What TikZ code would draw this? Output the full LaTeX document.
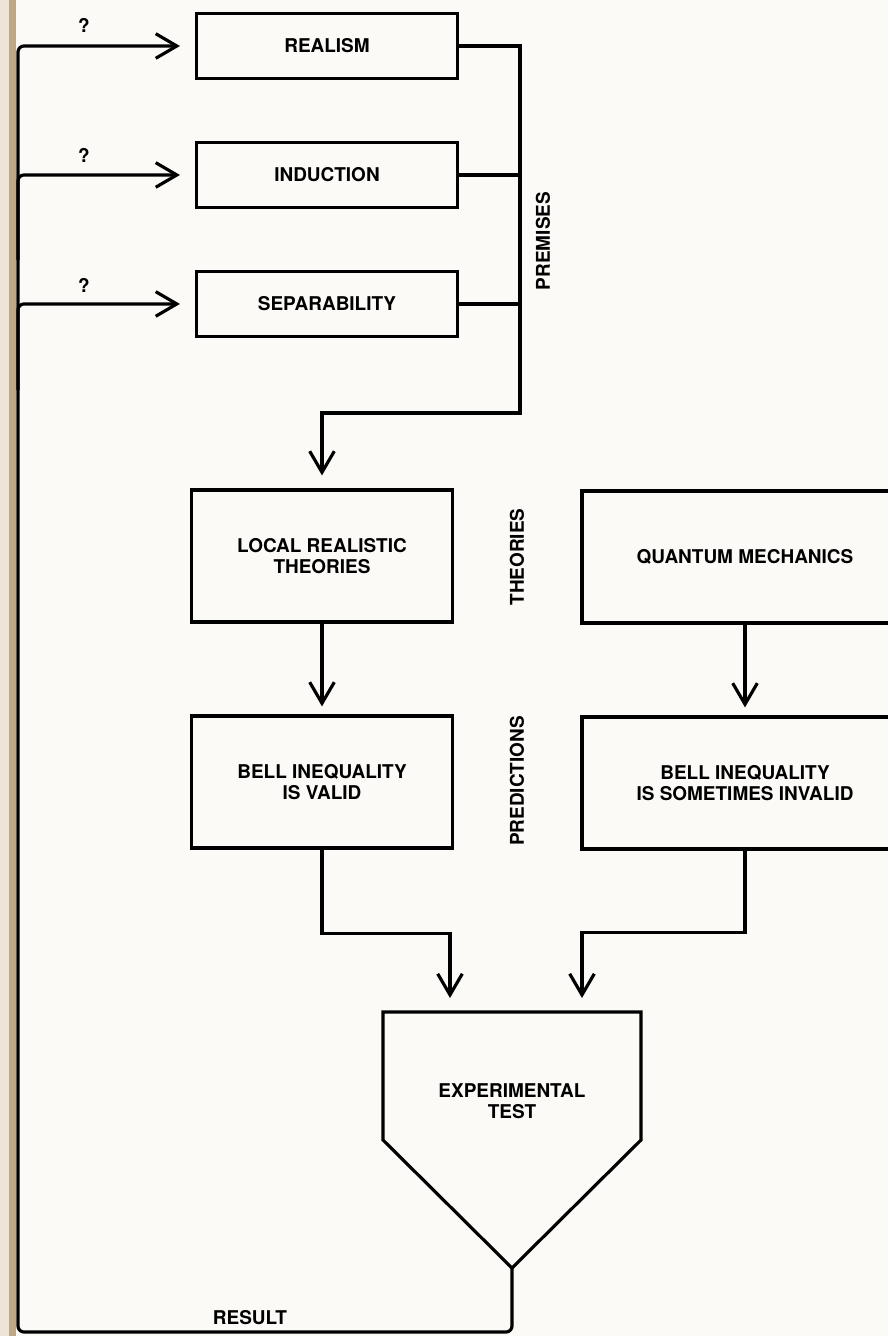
\documentclass[tikz,border=0pt]{standalone}
\usepackage{fontspec}
\setmainfont{TeX Gyre Heros}
\usetikzlibrary{arrows.meta, positioning}
\definecolor{paper}{RGB}{251,250,247}
\definecolor{margin}{RGB}{236,229,216}
\definecolor{binding}{RGB}{190,168,135}

\begin{document}
\begin{tikzpicture}
    [
        x=0.02cm, y=-0.02cm,
        node distance=2.58cm, >={Straight Barb[length=12pt,width=14pt]},
        font={\fontsize{10.8}{12}\selectfont\bfseries},
        box/.style={draw, line width=1.8pt, minimum width=5.22cm, minimum height=1.3cm, inner sep=0pt},
        bbox/.style={box, minimum height=2.64cm, align=center},
        wbox/.style={bbox, minimum width=6.52cm},
        heading/.style={rotate=90}
    ]
    \tikzstyle{line} = [draw, line width=1.8pt, ->]
    \tikzstyle{wire} = [draw, line width=1.8pt]

    % Scanned page
    \clip (0,0) rectangle (888,1336);
    \fill[paper] (0,0) rectangle (888,1336);
    \fill[margin] (0,0) rectangle (9,1336);
    \fill[binding] (9,0) rectangle (16,1336);

    \begin{scope}
        % Premises
        \node[box] (realism) at (327,46) {REALISM};
        \node[box, below of=realism] (induction) {INDUCTION};
        \node[box, below of=induction] (separability) {SEPARABILITY};
        \node[heading] (premises) at (543,241) {PREMISES};
        \node (q_realism) at (84,25) {?};
        \node (q_induction) at (84,155) {?};
        \node (q_separability) at (84,285) {?};

        % Theories
        \node[bbox] (local) at (322,556) {LOCAL REALISTIC\\THEORIES};
        \node[wbox] (quantum) at (745,557) {QUANTUM MECHANICS};
        \node[heading] (theories) at (517,557) {THEORIES};

        % Collecting the premises
        \coordinate (collect_top) at (520,46);
        \coordinate (collect_bot) at (520,413);
        \path[line, shorten >=0.26cm] (realism.east) -- (collect_top) -- (collect_bot) -| (local.north);
        \path[wire] (induction.east) -- (induction.east -| collect_top);
        \path[wire] (separability.east) -- (separability.east -| collect_top);

        % Predictions
        \node[bbox, below of=local, node distance=4.52cm] (valid) {BELL INEQUALITY\\IS VALID};
        \node[wbox, below of=quantum, node distance=4.52cm] (invalid) {BELL INEQUALITY\\IS SOMETIMES INVALID};
        \node[heading] (predictions) at (517,781) {PREDICTIONS};
        \path[line, shorten >=0.16cm] (local) -- (valid);
        \path[line, shorten >=0.16cm] (quantum) -- (invalid);

        % Experimental test
        \coordinate (exp_tl) at (383,1012);
        \coordinate (exp_tr) at (641,1012);
        \coordinate (exp_r) at (641,1140);
        \coordinate (exp_tip) at (512,1268);
        \coordinate (exp_l) at (383,1140);
        \path[wire] (exp_tl) -- (exp_tr) -- (exp_r) -- (exp_tip) -- (exp_l) -- cycle;
        \node[align=center] (experiment) at (512,1101) {EXPERIMENTAL\\TEST};
        \coordinate (exp_in_l) at (450,1012);
        \coordinate (exp_in_r) at (582,1012);
        \path[line, shorten >=0.28cm] (valid.south) -- ++(0,84) -| (exp_in_l);
        \path[line, shorten >=0.28cm] (invalid.south) -- ++(0,82) -| (exp_in_r);

        % Result fed back to the premises
        \coordinate (result_turn) at (512,1332);
        \coordinate (fb_corner) at (18,1332);
        \coordinate (fb_induction) at (18,260);
        \coordinate (fb_separability) at (18,390);
        \node (result) at (250,1318) {RESULT};
        \path[line, rounded corners=0.12cm, shorten >=0.3cm] (exp_tip) -- (result_turn) -- (fb_corner) |- (realism.west);
        \path[line, rounded corners=0.12cm, shorten >=0.3cm] (fb_induction) |- (induction.west);
        \path[line, rounded corners=0.12cm, shorten >=0.3cm] (fb_separability) |- (separability.west);

    \end{scope}
\end{tikzpicture}
\end{document}
